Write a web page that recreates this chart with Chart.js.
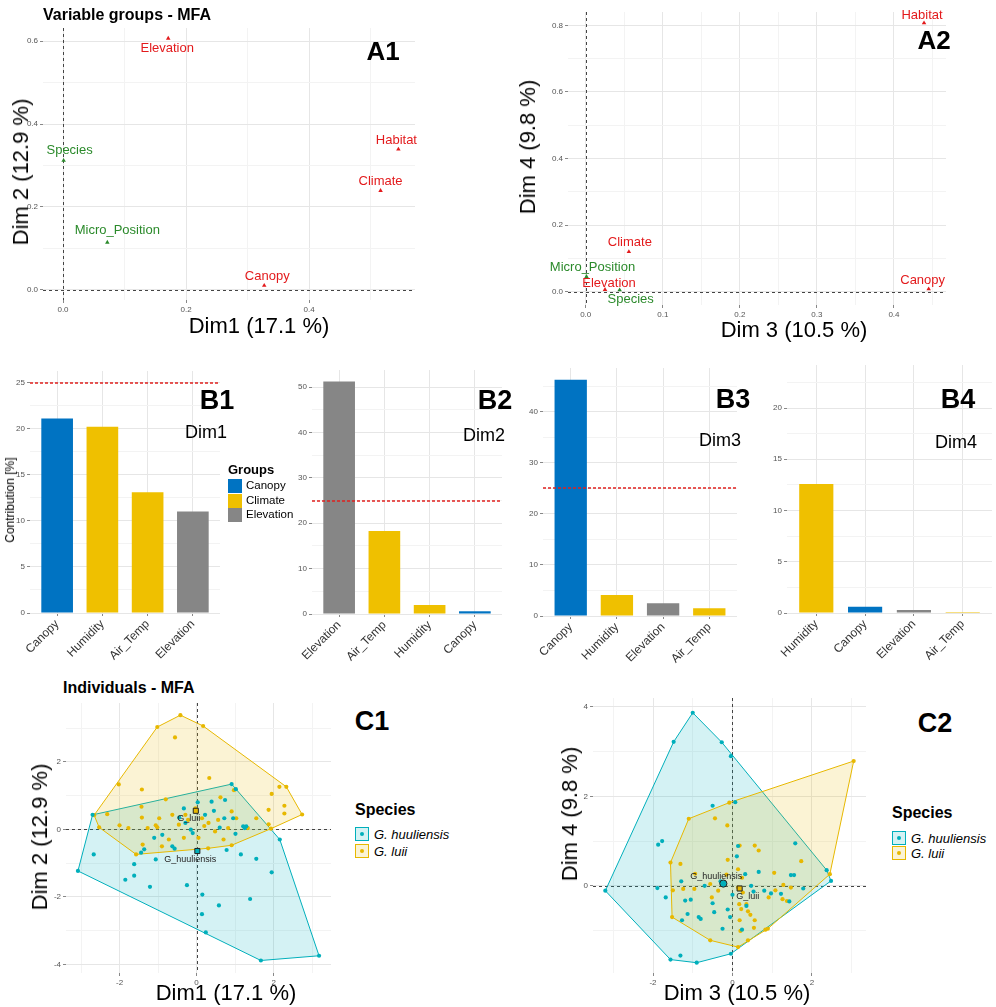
<!DOCTYPE html>
<html><head><meta charset="utf-8">
<script src="https://cdn.jsdelivr.net/npm/chart.js@4.4.1/dist/chart.umd.min.js"></script>
<style>
body{margin:0;background:#fff;font-family:"Liberation Sans",Arial,sans-serif;}
#root{position:relative;width:996px;height:1007px;overflow:hidden;background:#fff;}
canvas{position:absolute;}
.t{position:absolute;white-space:nowrap;color:#000;line-height:1;}
.sw{position:absolute;box-sizing:border-box;}
</style></head><body><div id="root"></div>
<script>
// ================= DATA =================
// A1 / A2 : variable groups (coordinates)
const groupNames = ['Elevation','Habitat','Climate','Species','Micro_Position','Canopy'];
const groupRole  = ['active','active','active','supplementary','supplementary','active'];
const a1Dim1 = [0.171, 0.545, 0.516, 0.001, 0.072, 0.327];
const a1Dim2 = [0.607, 0.339, 0.239, 0.312, 0.114, 0.010];
const a2Dim3 = [0.025, 0.439, 0.056, 0.044, 0.001, 0.445];
const a2Dim4 = [0.006, 0.807, 0.120, 0.005, 0.045, 0.008];
const a1XMajor = [0, 0.2, 0.4], a1XMinor = [0.1, 0.3, 0.5];
const a1YMajor = [0, 0.2, 0.4, 0.6], a1YMinor = [0.1, 0.3, 0.5];
const a2XMajor = [0, 0.1, 0.2, 0.3, 0.4], a2XMinor = [0.05, 0.15, 0.25, 0.35, 0.45];
const a2YMajor = [0, 0.2, 0.4, 0.6, 0.8], a2YMinor = [0.1, 0.3, 0.5, 0.7];

// B1..B4 : contributions
const b1Vars = ['Canopy','Humidity','Air_Temp','Elevation'];   const b1Contrib = [21.1, 20.2, 13.1, 11.0];
const b2Vars = ['Elevation','Air_Temp','Humidity','Canopy'];   const b2Contrib = [51.2, 18.3, 2.0, 0.6];
const b3Vars = ['Canopy','Humidity','Elevation','Air_Temp'];   const b3Contrib = [46.3, 4.1, 2.5, 1.5];
const b4Vars = ['Humidity','Canopy','Elevation','Air_Temp'];   const b4Contrib = [12.6, 0.6, 0.3, 0.1];
const varGroup = {Canopy:'Canopy', Humidity:'Climate', Air_Temp:'Climate', Elevation:'Elevation'};
const groupsLegend = ['Canopy','Climate','Elevation'];
const expectedContrib = 25;
const b1YMajor = [0,5,10,15,20,25], b1YMinor = [2.5,7.5,12.5,17.5,22.5];
const b2YMajor = [0,10,20,30,40,50], b2YMinor = [5,15,25,35,45];
const b3YMajor = [0,10,20,30,40],    b3YMinor = [5,15,25,35,45];
const b4YMajor = [0,5,10,15,20],     b4YMinor = [2.5,7.5,12.5,17.5,22.5];

// C1 : individuals Dim1 / Dim2
const c1HuulX = [-3.08,-2.70,-2.67,0.91,1.02,0.74,0.39,0.03,-0.33,0.22,0.72,0.95,1.21,1.29,1.25,1.01,-0.89,-1.10,-0.63,-0.57,-0.15,-0.10,-0.29,-1.36,-1.44,-1.06,-1.62,-1.62,-1.85,-1.21,-0.25,0.15,0.58,0.14,0.24,1.39,1.55,1.15,1.95,0.78,2.16,3.18,1.67,0.45,-0.45,0.60];
const c1HuulY = [-1.23,0.43,-0.74,1.34,1.19,0.87,0.82,0.80,0.62,0.43,0.33,0.33,0.09,0.09,0.04,-0.13,-0.16,-0.25,-0.50,-0.57,-0.01,-0.11,0.19,-0.59,-0.69,-0.89,-1.03,-1.37,-1.49,-1.70,-1.65,-1.93,-2.25,-2.51,-3.05,-2.06,-0.87,-0.74,-1.27,-0.61,-0.30,-3.74,-3.88,0.55,0.35,0.05];
const c1LuiiX = [-0.42,-1.02,0.17,-0.56,0.33,-2.02,-1.42,2.15,2.33,2.74,1.95,2.28,2.28,1.87,1.87,0.97,0.62,-0.80,-1.43,-2.32,-2.66,-2.53,-2.00,-1.77,-1.42,-1.06,-1.02,-0.46,-0.29,0.14,0.31,0.56,0.91,1.03,0.82,0.48,0.05,-0.33,-0.72,-1.40,-1.57,1.33,1.55,-0.03,-0.22,-0.63,-0.97,-1.27,0.30,0.91,1.93,0.70,-0.90,0.20];
const c1LuiiY = [3.38,3.03,3.06,2.72,1.52,1.33,1.18,1.26,1.26,0.44,1.05,0.70,0.47,0.58,0.15,1.16,0.95,0.89,0.67,0.45,0.42,0.06,0.12,0.04,0.35,0.12,0.06,0.14,0.43,0.33,0.19,0.28,0.53,0.33,0.04,-0.06,-0.25,-0.25,-0.30,-0.45,-0.74,0.04,0.33,0.62,0.28,0.43,0.33,0.04,-0.56,-0.47,0.02,-0.30,-0.50,0.10];
const c1MeanX = [0.02, -0.02], c1MeanY = [-0.64, 0.55];

// C2 : individuals Dim3 / Dim4
const c2HuulX = [-1.00,-0.27,-0.04,-1.48,2.37,2.48,-0.04,-0.90,-1.56,-3.20,-0.50,0.07,-1.87,-1.77,1.58,1.47,1.55,-1.89,-1.68,-1.29,-1.19,-1.05,-1.13,-1.27,-0.85,-0.80,-0.50,-0.46,-0.25,0.11,0.32,0.47,0.66,0.53,0.80,0.97,1.22,1.43,1.78,0.14,-0.12,-0.06,0.24,-1.31,0.00,-0.30,0.35,-0.70];
const c2HuulY = [3.87,3.21,2.90,3.22,0.35,0.11,-1.52,-1.72,-1.65,-0.11,1.79,1.87,0.92,1.00,0.95,0.24,0.24,-0.05,-0.26,0.10,-0.33,-0.31,-0.63,-0.77,-0.70,-0.74,-0.39,-0.59,-0.96,0.66,0.26,0.00,0.31,-0.13,-0.11,-0.17,-0.18,-0.35,-0.06,0.89,-0.53,-0.70,-0.98,-1.56,-0.20,0.10,-0.45,0.00];
const c2LuiiX = [3.05,2.45,0.89,0.14,-0.56,-1.52,-1.56,-1.10,-0.08,-0.44,-0.13,-1.31,-0.94,-0.12,0.14,0.18,0.56,0.66,1.05,1.73,1.28,1.47,1.08,0.91,1.26,1.37,0.24,0.14,0.26,0.17,0.22,0.39,0.35,0.18,0.56,0.83,0.54,0.20,0.39,-0.96,-0.56,-0.36,-0.52,-1.24,-1.50,0.45,-0.15];
const c2LuiiY = [2.79,0.26,-0.96,-1.37,-1.22,-0.70,0.52,1.50,1.86,1.51,1.35,0.49,0.27,0.58,0.37,0.90,0.90,0.79,0.29,0.55,0.02,-0.04,-0.10,-0.26,-0.30,-0.34,0.18,-0.04,-0.15,-0.41,-0.52,-0.57,-0.41,-0.77,-0.77,-0.98,-0.94,-1.01,-1.22,-0.07,0.04,-0.11,-0.26,-0.07,-0.10,-0.65,0.25];
const c2MeanX = [-0.23, 0.18], c2MeanY = [0.05, -0.06];
const speciesNames = ['G. huuliensis','G. luii'];
const meanLabels = ['G_huuliensis','G_luii'];
const cXMajor = [-2,0,2], cXMinor = [-3,-1,1,3];
const c1YMajor = [-4,-2,0,2], c1YMinor = [-3,-1,1,3];
const c2YMajor = [0,2,4], c2YMinor = [-1,1,3];

// ================= STYLE =================
const FONT = '"Liberation Sans", Arial, sans-serif';
const roleColor = {active:'#E31A1C', supplementary:'#2B8A2B'};
const groupColor = {Canopy:'#0073C2', Climate:'#EFC000', Elevation:'#868686'};
const spColor = ['#00AFBB','#E7B800'];
const spFill  = ['rgba(0,175,187,0.17)','rgba(231,184,0,0.17)'];

Chart.defaults.font.family = FONT;
Chart.defaults.animation = false;
const root = document.getElementById('root');

function addText(txt, x, y, o = {}) {
  const d = document.createElement('div');
  d.className = 't'; d.textContent = txt;
  d.style.left = x + 'px'; d.style.top = y + 'px';
  d.style.fontSize = (o.size || 12) + 'px';
  if (o.bold) d.style.fontWeight = 'bold';
  if (o.italic) d.style.fontStyle = 'italic';
  if (o.color) d.style.color = o.color;
  d.style.transform = o.rot ? 'translate(-50%,-50%) rotate(-90deg)' : (o.left ? 'translate(0,-50%)' : 'translate(-50%,-50%)');
  root.appendChild(d);
}
function makeCanvas(box, yW, xH, padT, padR) {
  const c = document.createElement('canvas');
  const W = box.r - box.l + yW + padR, H = box.b - box.t + xH + padT;
  c.width = W; c.height = H;
  c.style.left = (box.l - yW) + 'px'; c.style.top = (box.t - padT) + 'px';
  c.style.width = W + 'px'; c.style.height = H + 'px';
  root.appendChild(c);
  return c;
}
function lin(axis, min, max, major, minor, fmt, size, fontSize, tickExtra = {}) {
  const all = major.concat(minor).sort((a, b) => a - b);
  const isMaj = c => c.tick && major.includes(c.tick.value);
  return {
    type: 'linear', min, max, offset: false,
    afterBuildTicks: s => { s.ticks = all.map(v => ({value: v})); },
    afterFit: s => {
      if (axis === 'x') { s.height = size; s.paddingLeft = 0; s.paddingRight = 0; }
      else { s.width = size; s.paddingTop = 0; s.paddingBottom = 0; }
    },
    ticks: Object.assign({autoSkip: false, maxRotation: 0, minRotation: 0, padding: 2, color: '#555',
      font: {size: fontSize}, callback: v => major.includes(v) ? fmt(v) : ''}, tickExtra),
    grid: {offset: false, drawTicks: true, tickLength: 3, lineWidth: 1,
      color: c => isMaj(c) ? '#e6e6e6' : '#f3f3f3',
      tickColor: c => isMaj(c) ? '#888' : 'rgba(0,0,0,0)'},
    border: {display: false}
  };
}
const zeroLines = {id: 'zero', beforeDatasetsDraw(ch) {
  const {ctx, chartArea: a, scales: {x, y}} = ch;
  const px = Math.round(x.getPixelForValue(0)) + 0.5, py = Math.round(y.getPixelForValue(0)) + 0.5;
  ctx.save(); ctx.strokeStyle = '#444'; ctx.lineWidth = 1; ctx.setLineDash([3, 3]);
  ctx.beginPath(); ctx.moveTo(px, a.top); ctx.lineTo(px, a.bottom);
  ctx.moveTo(a.left, py); ctx.lineTo(a.right, py); ctx.stroke(); ctx.restore();
}};
let refCount = 0;
function refLine(val) {
  refCount++;
  return {id: 'ref' + refCount, afterDatasetsDraw(ch) {
    const y = ch.scales.y; if (val > y.max || val < y.min) return;
    const p = Math.round(y.getPixelForValue(val)), a = ch.chartArea, ctx = ch.ctx;
    ctx.save(); ctx.strokeStyle = '#E0201E'; ctx.lineWidth = 1.3; ctx.setLineDash([3, 2]);
    ctx.beginPath(); ctx.moveTo(a.left, p); ctx.lineTo(a.right, p); ctx.stroke(); ctx.restore();
  }};
}
function labels(items) {
  return {id: 'lbl', afterDatasetsDraw(ch) {
    const ctx = ch.ctx; ctx.save(); ctx.textAlign = 'center'; ctx.textBaseline = 'middle';
    for (const it of items) {
      const el = ch.getDatasetMeta(it.ds).data[it.i];
      ctx.fillStyle = it.color; ctx.font = it.size + 'px ' + FONT;
      ctx.fillText(it.text, el.x + it.dx, el.y + it.dy);
    }
    ctx.restore();
  }};
}
function hull(xs, ys) {
  const p = xs.map((x, i) => [x, ys[i]]).sort((a, b) => a[0] - b[0] || a[1] - b[1]);
  const cr = (o, a, b) => (a[0] - o[0]) * (b[1] - o[1]) - (a[1] - o[1]) * (b[0] - o[0]);
  const lo = [], up = [];
  for (const q of p) { while (lo.length >= 2 && cr(lo[lo.length - 2], lo[lo.length - 1], q) <= 0) lo.pop(); lo.push(q); }
  for (const q of p.slice().reverse()) { while (up.length >= 2 && cr(up[up.length - 2], up[up.length - 1], q) <= 0) up.pop(); up.push(q); }
  lo.pop(); up.pop();
  const h = lo.concat(up); h.push(h[0]);
  return h.map(([x, y]) => ({x, y}));
}
const base = {responsive: false, devicePixelRatio: 1, animation: false, events: [],
  layout: {padding: 0}, plugins: {legend: {display: false}, tooltip: {enabled: false}}};

// ================= A PANELS =================
function groupPanel(box, xr, yr, xs, ys, xMaj, xMin, yMaj, yMin, offsets) {
  const cv = makeCanvas(box, 40, 16, 14, 24);
  const items = groupNames.map((n, i) => ({ds: 0, i, text: n, dx: offsets[i][0], dy: offsets[i][1],
    color: roleColor[groupRole[i]], size: 13}));
  new Chart(cv, {
    type: 'scatter',
    data: {datasets: [{data: xs.map((x, i) => ({x, y: ys[i]})), pointStyle: 'triangle', pointRadius: 2.6,
      backgroundColor: groupRole.map(r => roleColor[r]), borderColor: groupRole.map(r => roleColor[r]), borderWidth: 0, clip: false}]},
    options: Object.assign({}, base, {layout: {padding: {top: 14, right: 24, left: 0, bottom: 0}},
      scales: {x: lin('x', xr[0], xr[1], xMaj, xMin, v => v.toFixed(1), 16, 8),
               y: lin('y', yr[0], yr[1], yMaj, yMin, v => v.toFixed(1), 40, 8)}}),
    plugins: [zeroLines, labels(items)]
  });
}
groupPanel({l: 43, t: 28, r: 415, b: 300}, [-0.0325, 0.572], [-0.025, 0.632], a1Dim1, a1Dim2,
  a1XMajor, a1XMinor, a1YMajor, a1YMinor, [[-1, 10], [-2, -9], [0, -9], [6, -10], [10, -12], [3, -9]]);
groupPanel({l: 568, t: 12, r: 946, b: 305}, [-0.023, 0.4675], [-0.04, 0.84], a2Dim3, a2Dim4,
  a2XMajor, a2XMinor, a2YMajor, a2YMinor, [[4, -6], [-2, -8], [1, -9], [11, 9], [6, -9], [-6, -9]]);

addText('Variable groups - MFA', 43, 15, {size: 16, bold: true, left: true});
addText('A1', 383, 51, {size: 26, bold: true});
addText('A2', 934, 40, {size: 26, bold: true});
addText('Dim 2 (12.9 %)', 21, 172, {size: 22, rot: true});
addText('Dim1 (17.1 %)', 259, 326, {size: 22});
addText('Dim 4 (9.8 %)', 528, 147, {size: 22, rot: true});
addText('Dim 3 (10.5 %)', 794, 330, {size: 22});

// ================= B PANELS =================
function contribPanel(box, yMax, vars, vals, yMaj, yMin) {
  const cv = makeCanvas(box, 30, 50, 2, 2);
  new Chart(cv, {
    type: 'bar',
    data: {datasets: [{data: vars.map((v, i) => ({x: i + 1, y: vals[i]})),
      backgroundColor: vars.map(v => groupColor[varGroup[v]]), borderWidth: 0,
      barPercentage: 0.7, categoryPercentage: 1}]},
    options: Object.assign({}, base, {layout: {padding: {top: 2, right: 2, left: 0, bottom: 0}},
      scales: {
        x: lin('x', 0.4, 4.6, [1, 2, 3, 4], [], v => vars[v - 1], 50, 12,
               {minRotation: 45, maxRotation: 45, color: '#333', padding: 1}),
        y: lin('y', 0, yMax, yMaj, yMin, v => String(v), 30, 8)}}),
    plugins: [refLine(expectedContrib)]
  });
}
contribPanel({l: 30, t: 371, r: 220, b: 613}, 26.25, b1Vars, b1Contrib, b1YMajor, b1YMinor);
contribPanel({l: 312, t: 370, r: 502, b: 614}, 53.76, b2Vars, b2Contrib, b2YMajor, b2YMinor);
contribPanel({l: 543, t: 368, r: 737, b: 616}, 48.6, b3Vars, b3Contrib, b3YMajor, b3YMinor);
contribPanel({l: 787, t: 365, r: 992, b: 613}, 24.2, b4Vars, b4Contrib, b4YMajor, b4YMinor);

addText('Contribution [%]', 10, 500, {size: 12, rot: true});
addText('B1', 217, 400, {size: 27, bold: true});
addText('Dim1', 206, 432, {size: 18});
addText('B2', 495, 400, {size: 27, bold: true});
addText('Dim2', 484, 435, {size: 18});
addText('B3', 733, 399, {size: 27, bold: true});
addText('Dim3', 720, 440, {size: 18});
addText('B4', 958, 399, {size: 27, bold: true});
addText('Dim4', 956, 442, {size: 18});
addText('Groups', 228, 469, {size: 13, bold: true, left: true});
groupsLegend.forEach((g, i) => {
  const cy = 486 + i * 14.5;
  const s = document.createElement('div'); s.className = 'sw';
  Object.assign(s.style, {left: '228px', top: (cy - 7) + 'px', width: '14px', height: '14px', background: groupColor[g]});
  root.appendChild(s);
  addText(g, 246, cy, {size: 11.5, left: true});
});

// ================= C PANELS =================
function indPanel(box, xr, yr, hx, hy, lx, ly, mx, my, yMaj, yMin, meanStyles, meanOffsets) {
  const cv = makeCanvas(box, 30, 18, 2, 2);
  const pts = (xs, ys) => xs.map((x, i) => ({x, y: ys[i]}));
  const items = meanLabels.map((t, i) => ({ds: 4, i, text: t, dx: meanOffsets[i][0], dy: meanOffsets[i][1], color: '#222', size: 9}));
  new Chart(cv, {
    type: 'scatter',
    data: {datasets: [
      {data: hull(hx, hy), showLine: true, fill: 'shape', backgroundColor: spFill[0], borderColor: spColor[0], borderWidth: 1, pointRadius: 0, tension: 0, order: 3},
      {data: hull(lx, ly), showLine: true, fill: 'shape', backgroundColor: spFill[1], borderColor: spColor[1], borderWidth: 1, pointRadius: 0, tension: 0, order: 2},
      {data: pts(hx, hy), pointRadius: 2.1, backgroundColor: spColor[0], borderWidth: 0, order: 1},
      {data: pts(lx, ly), pointRadius: 2.1, backgroundColor: spColor[1], borderWidth: 0, order: 1},
      {data: pts(mx, my), pointStyle: meanStyles, pointRadius: 3.6, backgroundColor: spColor, borderColor: '#222', borderWidth: 1, order: 0}
    ]},
    options: Object.assign({}, base, {layout: {padding: {top: 2, right: 2, left: 0, bottom: 0}},
      scales: {x: lin('x', xr[0], xr[1], cXMajor, cXMinor, v => String(v), 18, 8),
               y: lin('y', yr[0], yr[1], yMaj, yMin, v => String(v), 30, 8)}}),
    plugins: [zeroLines, labels(items)]
  });
}
indPanel({l: 66, t: 700, r: 334, b: 973}, [-3.39, 3.49], [-4.25, 3.74], c1HuulX, c1HuulY, c1LuiiX, c1LuiiY,
  c1MeanX, c1MeanY, c1YMajor, c1YMinor, ['rect', 'rect'], [[-7, 9], [-7, 8]]);
indPanel({l: 593, t: 695, r: 869, b: 973}, [-3.51, 3.36], [-1.95, 4.2], c2HuulX, c2HuulY, c2LuiiX, c2LuiiY,
  c2MeanX, c2MeanY, c2YMajor, c2YMinor, ['circle', 'rect'], [[-7, -7], [8, 8]]);

addText('Individuals - MFA', 63, 688, {size: 16, bold: true, left: true});
addText('C1', 372, 721, {size: 27, bold: true});
addText('C2', 935, 723, {size: 27, bold: true});
addText('Dim 2 (12.9 %)', 40, 837, {size: 22, rot: true});
addText('Dim1 (17.1 %)', 226, 993, {size: 22});
addText('Dim 4 (9.8 %)', 570, 814, {size: 22, rot: true});
addText('Dim 3 (10.5 %)', 737, 993, {size: 22});

function speciesLegend(x, yTitle, y0, step) {
  addText('Species', x, yTitle, {size: 16, bold: true, left: true});
  speciesNames.forEach((n, i) => {
    const cy = y0 + i * step;
    const s = document.createElement('div'); s.className = 'sw';
    Object.assign(s.style, {left: x + 'px', top: (cy - 7) + 'px', width: '14px', height: '14px',
      background: spFill[i], border: '1px solid ' + spColor[i]});
    const dot = document.createElement('div'); dot.className = 'sw';
    Object.assign(dot.style, {left: (x + 5) + 'px', top: (cy - 2) + 'px', width: '4px', height: '4px',
      borderRadius: '50%', background: spColor[i]});
    root.appendChild(s); root.appendChild(dot);
    addText(n, x + 19, cy, {size: 13, italic: true, left: true});
  });
}
speciesLegend(355, 810, 834, 16.5);
speciesLegend(892, 813, 838, 14.5);
</script></body></html>
